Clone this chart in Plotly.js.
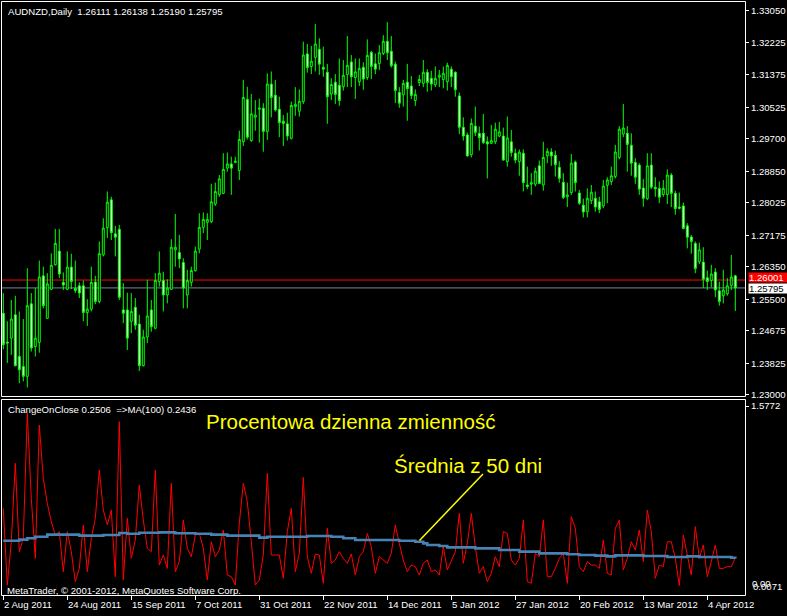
<!DOCTYPE html>
<html><head><meta charset="utf-8">
<script src="https://cdn.plot.ly/plotly-3.0.1.min.js"></script>
<style>html,body{margin:0;padding:0;background:#000;overflow:hidden;} #chart{width:787px;height:616px;}</style>
</head><body><div id="chart"></div>
<script>
// ---- DATA (AUDNZD Daily, 2 Aug 2011 .. Apr 2012) ----
const open = [
1.2513,1.2438,1.2448,1.2509,1.2400,1.2374,1.2348,1.2538,1.2426,1.2437,
1.2611,1.2500,1.2576,1.2640,1.2676,1.2594,1.2576,1.2634,1.2578,1.2585,
1.2585,1.2515,1.2524,1.2595,1.2544,1.2666,1.2737,1.2810,1.2721,1.2733,
1.2522,1.2522,1.2492,1.2529,1.2485,1.2376,1.2451,1.2522,1.2474,1.2596,
1.2599,1.2561,1.2576,1.2679,1.2672,1.2646,1.2561,1.2594,1.2625,1.2681,
1.2738,1.2751,1.2753,1.2799,1.2824,1.2827,1.2893,1.2904,1.2908,1.2887,
1.2962,1.3073,1.2965,1.3026,1.3047,1.3050,1.2989,1.3113,1.3084,1.3047,
1.3016,1.3009,1.2971,1.3054,1.3042,1.3067,1.3192,1.3159,1.3183,1.3204,
1.3157,1.3144,1.3087,1.3118,1.3110,1.3106,1.3138,1.3171,1.3130,1.3119,
1.3157,1.3130,1.3196,1.3166,1.3167,1.3193,1.3225,1.3199,1.3165,1.3091,
1.3085,1.3118,1.3108,1.3070,1.3117,1.3115,1.3144,1.3128,1.3111,1.3131,
1.3125,1.3119,1.3152,1.3144,1.3082,1.3000,1.2980,1.2928,1.3003,1.2984,
1.2984,1.2962,1.2958,1.2962,1.2977,1.2977,1.2910,1.2962,1.2932,1.2910,
1.2932,1.2849,1.2851,1.2851,1.2899,1.2849,1.2925,1.2935,1.2927,1.2895,
1.2856,1.2818,1.2829,1.2909,1.2828,1.2796,1.2779,1.2808,1.2814,1.2805,
1.2794,1.2848,1.2858,1.2871,1.2921,1.2982,1.2984,1.2953,1.2908,1.2901,
1.2841,1.2813,1.2901,1.2843,1.2840,1.2824,1.2824,1.2875,1.2827,1.2791,
1.2794,1.2742,1.2713,1.2696,1.2648,1.2647,1.2606,1.2599,1.2621,1.2572,
1.2559,1.2564,1.2586,1.26111];
const high = [
1.2566,1.2492,1.2548,1.2559,1.2518,1.2498,1.2631,1.2566,1.2579,1.2651,
1.2635,1.2618,1.2670,1.2734,1.2734,1.2620,1.2675,1.2669,1.2651,1.2594,
1.2599,1.2550,1.2635,1.2611,1.2701,1.2762,1.2832,1.2818,1.2742,1.2744,
1.2592,1.2567,1.2566,1.2553,1.2509,1.2470,1.2601,1.2548,1.2618,1.2675,
1.2622,1.2602,1.2707,1.2773,1.2718,1.2657,1.2627,1.2635,1.2688,1.2775,
1.2777,1.2775,1.2852,1.2855,1.2875,1.2932,1.2934,1.2923,1.2923,1.2991,
1.3124,1.3106,1.3087,1.3071,1.3075,1.3063,1.3141,1.3146,1.3124,1.3080,
1.3032,1.3038,1.3067,1.3105,1.3099,1.3224,1.3218,1.3213,1.3270,1.3233,
1.3211,1.3166,1.3128,1.3139,1.3180,1.3176,1.3239,1.3189,1.3180,1.3180,
1.3170,1.3230,1.3200,1.3193,1.3215,1.3241,1.3275,1.3239,1.3172,1.3105,
1.3124,1.3166,1.3134,1.3099,1.3137,1.3176,1.3152,1.3148,1.3159,1.3150,
1.3159,1.3169,1.3159,1.3146,1.3091,1.3026,1.2986,1.3023,1.3054,1.3002,
1.3035,1.2976,1.3006,1.3012,1.3014,1.2999,1.3028,1.2993,1.2944,1.2942,
1.2942,1.2897,1.2880,1.2894,1.2913,1.2962,1.2945,1.2945,1.2939,1.2911,
1.2880,1.2855,1.2930,1.2913,1.2836,1.2813,1.2840,1.2849,1.2832,1.2818,
1.2862,1.2869,1.2897,1.2954,1.3003,1.3061,1.3003,1.2984,1.2919,1.2906,
1.2864,1.2932,1.2932,1.2869,1.2858,1.2862,1.2890,1.2880,1.2834,1.2829,
1.2803,1.2749,1.2718,1.2701,1.2698,1.2686,1.2625,1.2640,1.2631,1.2596,
1.2627,1.2605,1.2666,1.26138];
const low = [
1.2419,1.2383,1.2404,1.2374,1.2330,1.2335,1.2319,1.2413,1.2400,1.2410,
1.2526,1.2498,1.2574,1.2638,1.2605,1.2574,1.2574,1.2576,1.2566,1.2553,
1.2492,1.2480,1.2518,1.2537,1.2539,1.2662,1.2710,1.2705,1.2662,1.2548,
1.2487,1.2417,1.2461,1.2470,1.2362,1.2374,1.2435,1.2465,1.2471,1.2583,
1.2518,1.2539,1.2574,1.2635,1.2631,1.2526,1.2526,1.2583,1.2622,1.2670,
1.2723,1.2705,1.2749,1.2794,1.2818,1.2825,1.2884,1.2823,1.2906,1.2862,
1.2951,1.2968,1.2962,1.2991,1.2960,1.2936,1.2967,1.3026,1.3041,1.2974,
1.2951,1.2965,1.2968,1.3030,1.3028,1.3061,1.3143,1.3139,1.3146,1.3137,
1.3132,1.3009,1.3071,1.3061,1.3056,1.3096,1.3105,1.3105,1.3074,1.3108,
1.3098,1.3124,1.3126,1.3139,1.3150,1.3189,1.3176,1.3156,1.3063,1.3051,
1.3054,1.3017,1.3074,1.3056,1.3108,1.3105,1.3093,1.3096,1.3105,1.3105,
1.3102,1.3096,1.3105,1.3080,1.2982,1.2965,1.2923,1.2921,1.2977,1.2939,
1.2956,1.2866,1.2956,1.2956,1.2974,1.2913,1.2897,1.2923,1.2906,1.2873,
1.2832,1.2838,1.2823,1.2845,1.2852,1.2834,1.2906,1.2899,1.2871,1.2855,
1.2812,1.2791,1.2823,1.2832,1.2797,1.2764,1.2764,1.2799,1.2779,1.2775,
1.2788,1.2801,1.2849,1.2866,1.2916,1.2974,1.2884,1.2873,1.2852,1.2823,
1.2792,1.2810,1.2838,1.2818,1.2801,1.2818,1.2799,1.2791,1.2771,1.2785,
1.2733,1.2683,1.2669,1.2618,1.2642,1.2579,1.2574,1.2581,1.2555,1.2533,
1.2539,1.2559,1.2574,1.25190];
const close = [
1.2431,1.2435,1.2498,1.2376,1.2365,1.2348,1.2533,1.2422,1.2448,1.2608,
1.2533,1.2590,1.2639,1.2696,1.2616,1.2587,1.2634,1.2596,1.2573,1.2566,
1.2515,1.2524,1.2594,1.2544,1.2669,1.2736,1.2804,1.2724,1.2712,1.2555,
1.2513,1.2448,1.2518,1.2482,1.2376,1.2451,1.2506,1.2478,1.2599,1.2618,
1.2561,1.2579,1.2686,1.2686,1.2655,1.2579,1.2599,1.2625,1.2676,1.2738,
1.2759,1.2759,1.2805,1.2832,1.2865,1.2890,1.2904,1.2893,1.2911,1.2968,
1.3078,1.2974,1.3035,1.3032,1.3050,1.2989,1.3113,1.3078,1.3045,1.3012,
1.3010,1.2977,1.3057,1.3060,1.3068,1.3189,1.3156,1.3173,1.3218,1.3165,
1.3152,1.3080,1.3112,1.3086,1.3070,1.3136,1.3162,1.3132,1.3145,1.3154,
1.3126,1.3188,1.3159,1.3152,1.3195,1.3225,1.3195,1.3161,1.3096,1.3063,
1.3115,1.3101,1.3083,1.3086,1.3125,1.3144,1.3117,1.3113,1.3128,1.3136,
1.3141,1.3162,1.3132,1.3098,1.3000,1.2977,1.2925,1.3010,1.2986,1.2973,
1.2960,1.2956,1.2965,1.2995,1.2988,1.2914,1.2972,1.2934,1.2914,1.2935,
1.2855,1.2845,1.2855,1.2885,1.2853,1.2921,1.2937,1.2925,1.2902,1.2866,
1.2816,1.2823,1.2906,1.2855,1.2801,1.2778,1.2814,1.2830,1.2791,1.2785,
1.2846,1.2862,1.2873,1.2935,1.2995,1.2998,1.2955,1.2906,1.2869,1.2838,
1.2814,1.2899,1.2843,1.2839,1.2817,1.2840,1.2875,1.2827,1.2787,1.2788,
1.2735,1.2712,1.2701,1.2630,1.2679,1.2602,1.2596,1.2616,1.2574,1.2544,
1.2574,1.2585,1.2608,1.25795];

// ChangeOnClose (% daily change), red
const changeOnClose = [
0.682,0.011,0.390,1.076,0.303,0.420,1.513,0.770,0.245,1.411,
0.944,0.726,0.566,0.449,0.478,0.128,0.478,0.303,0.041,0.157,
0.536,0.128,0.420,0.595,1.017,0.667,0.536,0.667,0.084,1.440,
0.055,0.595,0.245,0.405,0.886,0.580,0.332,0.303,1.017,0.186,
0.274,0.157,0.901,0.128,0.216,0.580,0.332,0.259,0.449,0.463,
0.332,0.055,0.390,0.259,0.318,0.493,0.099,0.084,0.011,0.551,
0.901,0.740,0.390,0.011,0.055,0.274,0.988,0.274,0.274,0.274,
0.070,0.478,0.682,0.128,0.289,0.953,0.259,0.114,0.283,0.274,
0.026,0.507,0.201,0.230,0.303,0.245,0.201,0.283,0.099,0.259,
0.303,0.463,0.347,0.114,0.259,0.230,0.201,0.289,0.536,0.376,
0.230,0.128,0.186,0.172,0.099,0.201,0.230,0.128,0.143,0.099,
0.347,0.143,0.230,0.303,0.638,0.201,0.376,0.638,0.347,0.114,
0.172,0.041,0.114,0.259,0.172,0.478,0.463,0.230,0.186,0.245,
0.580,0.041,0.026,0.289,0.259,0.580,0.084,0.084,0.157,0.245,
0.288,0.026,0.609,0.507,0.172,0.128,0.216,0.186,0.186,0.157,
0.405,0.113,0.099,0.507,0.580,0.143,0.245,0.390,0.318,0.493,
0.216,0.667,0.478,0.070,0.186,0.172,0.390,0.390,0.245,0.007,
0.449,0.274,0.099,0.522,0.245,0.361,0.084,0.216,0.361,0.157,
0.157,0.172,0.172,0.2506];

// moving average, blue
const movingAvg = [
0.399,0.399,0.399,0.399,0.408,0.408,0.420,0.420,0.434,0.434,
0.434,0.452,0.452,0.452,0.452,0.452,0.452,0.452,0.452,0.443,
0.443,0.443,0.443,0.443,0.443,0.449,0.449,0.449,0.449,0.466,
0.466,0.460,0.460,0.460,0.469,0.469,0.469,0.469,0.469,0.472,
0.472,0.472,0.472,0.464,0.464,0.464,0.464,0.464,0.460,0.460,
0.460,0.460,0.452,0.452,0.452,0.452,0.443,0.443,0.443,0.443,
0.443,0.443,0.443,0.443,0.426,0.426,0.434,0.434,0.434,0.434,
0.434,0.434,0.434,0.434,0.434,0.434,0.440,0.440,0.440,0.440,
0.440,0.440,0.434,0.434,0.434,0.420,0.420,0.420,0.405,0.405,
0.405,0.405,0.405,0.405,0.405,0.405,0.405,0.405,0.405,0.399,
0.399,0.399,0.399,0.390,0.390,0.376,0.361,0.361,0.361,0.353,
0.353,0.341,0.341,0.341,0.341,0.341,0.341,0.341,0.332,0.332,
0.332,0.332,0.332,0.332,0.318,0.318,0.318,0.318,0.318,0.303,
0.303,0.303,0.303,0.303,0.288,0.288,0.288,0.288,0.288,0.288,
0.288,0.280,0.280,0.280,0.274,0.274,0.274,0.274,0.268,0.268,
0.268,0.262,0.262,0.271,0.271,0.271,0.271,0.271,0.271,0.271,
0.265,0.265,0.265,0.265,0.265,0.265,0.256,0.256,0.256,0.256,
0.256,0.262,0.262,0.262,0.256,0.256,0.256,0.256,0.256,0.256,
0.256,0.256,0.250,0.2436];

const dateLabels = ["2 Aug 2011","24 Aug 2011","15 Sep 2011","7 Oct 2011","31 Oct 2011","22 Nov 2011",
                    "14 Dec 2011","5 Jan 2012","27 Jan 2012","20 Feb 2012","13 Mar 2012","4 Apr 2012"];
const dateLabelBars = [0,16,32,48,64,80,96,112,128,144,160,176];
const priceTickLabels = ["1.33050","1.32225","1.31375","1.30525","1.29700","1.28850","1.28025",
                         "1.27175","1.26350","1.25500","1.24675","1.23825","1.23000"];
const indicatorMaxLabel = "1.5772", indicatorMinLabel = "0.0071", indicatorZeroLabel = "0.00";
const askPrice = 1.26001, bidPrice = 1.25795;
const headerText = "AUDNZD,Daily\u00a0\u00a01.26111 1.26138 1.25190 1.25795";
const indicatorText = "ChangeOnClose 0.2506\u00a0\u00a0=>MA(100) 0.2436";
const copyrightText = "MetaTrader, \u00a9 2001-2012, MetaQuotes Software Corp.";
const noteVolatility = "Procentowa dzienna zmienność";
const noteAverage = "Średnia z 50 dni";

// ---- LAYOUT ----
const W = 787, H = 616;
const fx = px => px / W;
const fy = py => 1 - py / H;
const bars = close.map((_, i) => i);
const xr = [-0.325, 185.425];
const FONT = "Liberation Sans, Arial, sans-serif";
const LIME = "#00ff00";
const TXT = {family: FONT, size: 9.6, color: "#ffffff"};

const traces = [
  {type: "candlestick", x: bars, open: open, high: high, low: low, close: close,
   xaxis: "x", yaxis: "y",
   increasing: {line: {color: LIME, width: 1}, fillcolor: "#000000"},
   decreasing: {line: {color: LIME, width: 1}, fillcolor: "#ffffff"},
   whiskerwidth: 0, hoverinfo: "skip", showlegend: false},
  {type: "scatter", mode: "lines", x: bars, y: changeOnClose, xaxis: "x2", yaxis: "y2",
   line: {color: "#ff0000", width: 1}, hoverinfo: "skip", showlegend: false},
  {type: "scatter", mode: "lines", x: bars, y: movingAvg, xaxis: "x2", yaxis: "y2",
   line: {color: "#4682b4", width: 2.6, shape: "hv"}, hoverinfo: "skip", showlegend: false}
];

const annotations = [
  {text: headerText, xref: "paper", yref: "paper", x: fx(6), y: fy(11), xanchor: "left", yanchor: "middle",
   showarrow: false, font: TXT},
  {text: indicatorText, xref: "paper", yref: "paper", x: fx(6), y: fy(409), xanchor: "left", yanchor: "middle",
   showarrow: false, font: TXT},
  {text: copyrightText, xref: "paper", yref: "paper", x: fx(5), y: fy(590), xanchor: "left", yanchor: "middle",
   showarrow: false, font: TXT},
  {text: noteVolatility, xref: "paper", yref: "paper", x: fx(204), y: fy(421), xanchor: "left", yanchor: "middle",
   showarrow: false, font: {family: FONT, size: 20.5, color: "#ffff00"}},
  {text: noteAverage, xref: "paper", yref: "paper", x: fx(392), y: fy(466), xanchor: "left", yanchor: "middle",
   showarrow: false, font: {family: FONT, size: 20.5, color: "#ffff00"}},
  {text: askPrice.toFixed(5), xref: "paper", yref: "y", x: fx(747.5), y: askPrice, yshift: 2.5,
   xanchor: "left", yanchor: "middle", showarrow: false, bgcolor: "#ff0000", borderpad: 0,
   width: 39, height: 8.5, align: "left", font: TXT},
  {text: bidPrice.toFixed(5), xref: "paper", yref: "y", x: fx(747.5), y: bidPrice, yshift: -0.8,
   xanchor: "left", yanchor: "middle", showarrow: false, bgcolor: "#ffffff", borderpad: 0,
   width: 39, height: 8.5, align: "left", font: {family: FONT, size: 9.6, color: "#000000"}},
  {text: indicatorZeroLabel, xref: "paper", yref: "y2", x: fx(750), y: Number(indicatorMinLabel), yshift: 2,
   xanchor: "left", yanchor: "middle", showarrow: false, font: TXT},
  {text: indicatorMinLabel, xref: "paper", yref: "y2", x: fx(751), y: Number(indicatorMinLabel), yshift: -1,
   xanchor: "left", yanchor: "middle", showarrow: false, font: TXT}
];
dateLabels.forEach((t, k) => annotations.push({
  text: t, xref: "x2", yref: "paper", x: dateLabelBars[k] - 0.3, y: fy(604.5),
  xanchor: "left", yanchor: "middle", showarrow: false, font: TXT}));

const shapes = [
  {type: "line", xref: "x", yref: "y", x0: xr[0], x1: xr[1], y0: askPrice, y1: askPrice,
   line: {color: "#ff0000", width: 1}, layer: "below"},
  {type: "line", xref: "x", yref: "y", x0: xr[0], x1: xr[1], y0: bidPrice, y1: bidPrice,
   line: {color: "#778899", width: 1}, layer: "below"},
  {type: "rect", xref: "paper", yref: "paper", x0: fx(1.5), x1: fx(745.5), y0: fy(396.5), y1: fy(1.5),
   line: {color: "#ffffff", width: 1}},
  {type: "rect", xref: "paper", yref: "paper", x0: fx(1.5), x1: fx(745.5), y0: fy(595.5), y1: fy(399.5),
   line: {color: "#ffffff", width: 1}},
  {type: "line", xref: "paper", yref: "paper", x0: fx(483), y0: fy(474), x1: fx(419.5), y1: fy(540.5),
   line: {color: "#ffff00", width: 1.5}}
];

const layout = {
  width: W, height: H, margin: {l: 0, r: 0, t: 0, b: 0},
  paper_bgcolor: "#000000", plot_bgcolor: "#000000",
  showlegend: false, dragmode: false,
  xaxis: {domain: [fx(2), fx(745)], range: xr, showgrid: false, zeroline: false, showticklabels: false,
          ticks: "", showline: false, rangeslider: {visible: false}, fixedrange: true, anchor: "y"},
  yaxis: {domain: [fy(396), fy(2)], range: [1.22966, 1.33278], side: "right", showgrid: false, zeroline: false,
          showline: false, ticks: "outside", ticklen: 3, tickcolor: "#ffffff", tickwidth: 1,
          tickvals: priceTickLabels.map(Number), ticktext: priceTickLabels,
          tickfont: TXT, fixedrange: true, anchor: "x"},
  xaxis2: {domain: [fx(2), fx(745)], range: xr, showgrid: false, zeroline: false, showticklabels: false,
           ticks: "outside", ticklen: 4, tickcolor: "#ffffff", tickwidth: 1, tickvals: dateLabelBars,
           showline: false, fixedrange: true, anchor: "y2"},
  yaxis2: {domain: [fy(595), fy(400)], range: [-0.0760, 1.6297], side: "right", showgrid: false, zeroline: false,
           showline: false, ticks: "outside", ticklen: 3, tickcolor: "#ffffff", tickwidth: 1,
           tickvals: [Number(indicatorMaxLabel)], ticktext: [indicatorMaxLabel],
           tickfont: TXT, fixedrange: true, anchor: "x2"},
  annotations: annotations,
  shapes: shapes
};

Plotly.newPlot("chart", traces, layout, {staticPlot: true, displayModeBar: false});
</script>
</body></html>
